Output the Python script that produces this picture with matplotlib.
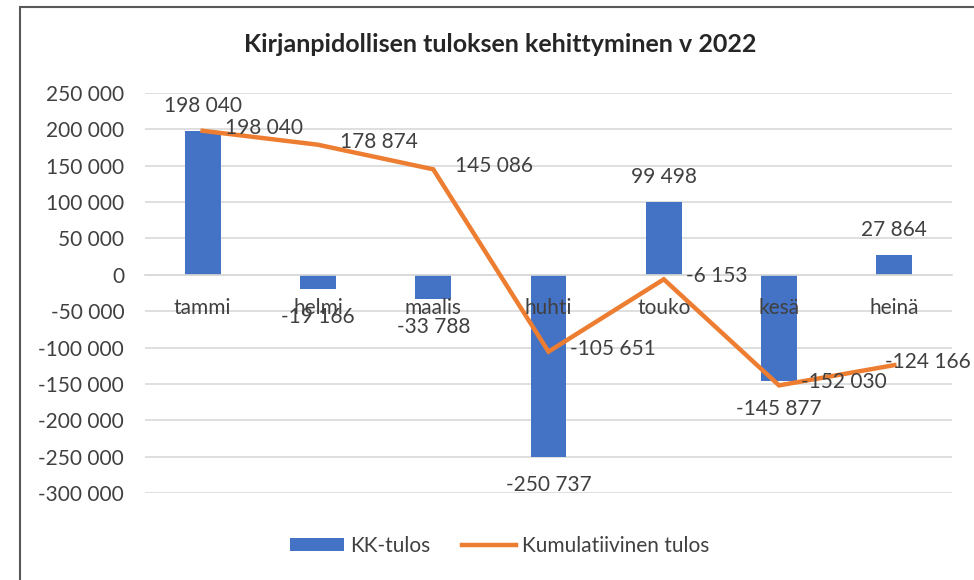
import matplotlib
matplotlib.use("Agg")
import matplotlib.pyplot as plt
from matplotlib.ticker import FuncFormatter, MultipleLocator
from matplotlib.patches import Patch, Rectangle
from matplotlib.lines import Line2D
from matplotlib.transforms import offset_copy

plt.rcParams['font.family'] = ['Lato', 'DejaVu Sans']

title = "Kirjanpidollisen tuloksen kehittyminen v 2022"
months = ["tammi", "helmi", "maalis", "huhti", "touko", "kesä", "heinä"]
kk_tulos = [198040, -19166, -33788, -250737, 99498, -145877, 27864]
kumulatiivinen = [198040, 178874, 145086, -105651, -6153, -152030, -124166]
series_names = ["KK-tulos", "Kumulatiivinen tulos"]

BLUE = "#4472C4"
ORANGE = "#ED7D31"
TXT = "#404040"
GRID = "#D9D9D9"
FS = 15

def fmt(v):
    return f"{v:,.0f}".replace(",", " ")

W, H = 974, 580
fig = plt.figure(figsize=(W / 100, H / 100), dpi=100)
ax = fig.add_axes([145 / W, (H - 493) / H, (952 - 145) / W, 400 / H])

x = list(range(len(months)))
ax.bar(x, kk_tulos, width=0.31, color=BLUE, zorder=2)
ax.plot(x, kumulatiivinen, color=ORANGE, lw=3.2, zorder=3, solid_joinstyle='miter')

ax.set_xlim(-0.5, len(months) - 0.5)
ax.set_ylim(-300000, 250000)
ax.yaxis.set_major_locator(MultipleLocator(50000))
ax.yaxis.set_major_formatter(FuncFormatter(lambda v, p: fmt(v)))
ax.grid(axis='y', color=GRID, lw=1.2, zorder=0)
ax.set_axisbelow(True)
for s in ['top', 'right', 'left']:
    ax.spines[s].set_visible(False)
ax.spines['bottom'].set_position(('data', 0))
ax.spines['bottom'].set_color(GRID)
ax.spines['bottom'].set_linewidth(1.2)
ax.set_xticks(x)
ax.set_xticklabels([])
ax.tick_params(axis='x', length=0)
ax.tick_params(axis='y', length=0, pad=15, labelsize=FS, labelcolor=TXT)

# category labels drawn on top of the bars (as in the reference)
cat_tr = offset_copy(ax.transData, fig=fig, x=0, y=-33, units='dots')
for xi, m in zip(x, months):
    ax.text(xi, 0, m, transform=cat_tr, ha='center', va='center',
            fontsize=FS, color=TXT, zorder=5)

# bar data labels
for xi, v in zip(x, kk_tulos):
    off = 25 if v >= 0 else -28
    ax.annotate(fmt(v), (xi, v), xytext=(0, off), textcoords='offset pixels',
                ha='center', va='center', fontsize=FS, color=TXT, zorder=4)

# line data labels (right of point)
for i, (xi, v) in enumerate(zip(x, kumulatiivinen)):
    dx = 22 if i < len(x) - 1 else -9
    ax.annotate(fmt(v), (xi, v), xytext=(dx, 3), textcoords='offset pixels',
                ha='left', va='center', fontsize=FS, color=TXT, zorder=4)

fig.text(500 / W, 1 - 44 / H, title, ha='center', va='center', fontsize=18,
         fontweight='bold', color="#262626")

handles = [Patch(facecolor=BLUE, edgecolor='none'),
           Line2D([0], [0], color=ORANGE, lw=3.2)]
fig.legend(handles, series_names, loc='center', bbox_to_anchor=(500 / W, 1 - 546 / H),
           ncol=2, frameon=False, fontsize=FS, labelcolor=TXT, handlelength=2.6,
           handleheight=0.6, columnspacing=1.5, handletextpad=0.3)

fig.patches.append(Rectangle((20 / W, -0.1), 1.2, 1 - 7 / H + 0.1, transform=fig.transFigure,
                             fill=False, edgecolor="#595959", lw=1.5))

fig.savefig("out.png", dpi=100)
